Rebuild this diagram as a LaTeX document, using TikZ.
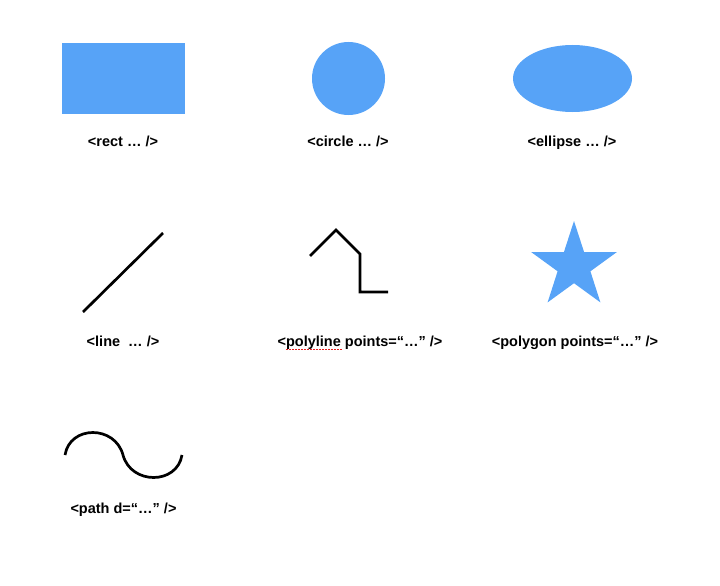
\documentclass[tikz,border=0pt]{standalone}
\usepackage{fontspec}
\setmainfont{Liberation Sans}
\definecolor{shapeblue}{RGB}{87,163,247}
\definecolor{spellred}{RGB}{230,30,30}
\begin{document}
\begin{tikzpicture}[x=1pt,y=-1pt,
  lbl/.style={font=\fontsize{14.5}{17}\selectfont\bfseries, inner sep=0pt, anchor=base},
  fillshape/.style={fill=shapeblue, draw=none},
  stroke/.style={draw=black, line width=2.7pt, line join=miter}]
\useasboundingbox (0,0) rectangle (720,586);
% row 1
\fill[fillshape] (62,43) rectangle (185,114);
\node[lbl] (lrect) at (123,146) {<rect … />};
\fill[fillshape] (348.5,78.5) circle [radius=36.5];
\node[lbl] (lcircle) at (348,146) {<circle … />};
\fill[fillshape] (572.5,78.5) ellipse [x radius=59.5, y radius=33.5];
\node[lbl] (lellipse) at (572,146) {<ellipse … />};
% row 2
\coordinate (la) at (83,312);
\coordinate (lb) at (163,233);
\draw[stroke] (la) -- (lb);
\node[lbl] (lline) at (123,346) {<line\ \ … />};
\coordinate (p1) at (310,256);
\coordinate (p2) at (336,230);
\coordinate (p3) at (360,254);
\coordinate (p4) at (360,292);
\coordinate (p5) at (388,292);
\draw[stroke] (p1) -- (p2) -- (p3) -- (p4) -- (p5);
\node[lbl] (lpoly) at (360,346) {<polyline points=“…” />};
\draw[spellred, line width=1.3pt, dash pattern=on 1.8pt off 1.2pt]
  ([xshift=8.5pt,yshift=-3.8pt]lpoly.base west) -- ++(56,0);
\fill[fillshape] (574,221) -- (584.1,252.1) -- (616.8,252.1) -- (590.4,271.3)
  -- (600.4,302.4) -- (574,283.2) -- (547.6,302.4) -- (557.6,271.3)
  -- (531.2,252.1) -- (563.9,252.1) -- cycle;
\node[lbl] (lpolygon) at (575,346) {<polygon points=“…” />};
% row 3
\coordinate (s0) at (65,455);
\coordinate (s1) at (123,455);
\coordinate (s2) at (182,455);
\draw[stroke] (s0) .. controls (70,425) and (115,425) .. (s1)
  .. controls (131,485) and (177,485) .. (s2);
\node[lbl] (lpath) at (123.5,513) {<path d=“…” />};
\end{tikzpicture}
\end{document}
